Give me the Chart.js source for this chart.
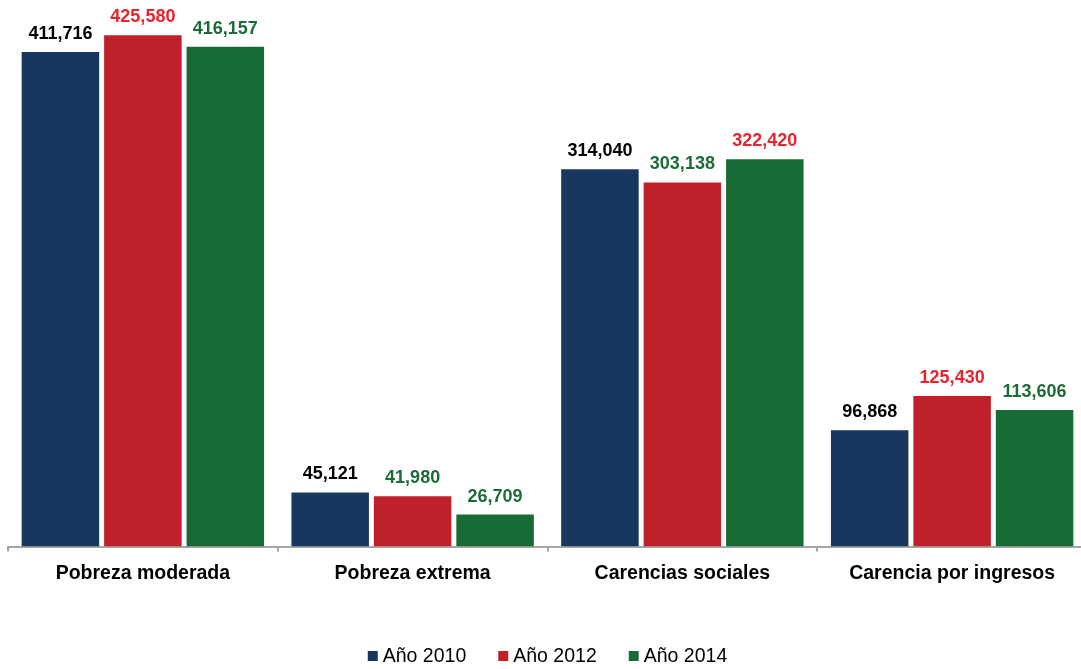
<!DOCTYPE html>
<html>
<head>
<meta charset="utf-8">
<script src="https://cdn.jsdelivr.net/npm/chart.js@4/dist/chart.umd.min.js"></script>
<style>
html,body{margin:0;padding:0;background:#fff;overflow:hidden;}
#wrap{width:1081px;height:669px;position:relative;overflow:hidden;}
</style>
</head>
<body>
<div id="wrap"><canvas id="c" width="1087" height="669"></canvas></div>
<script>
const categories = ["Pobreza moderada", "Pobreza extrema", "Carencias sociales", "Carencia por ingresos"];
const seriesNames = ["Año 2010", "Año 2012", "Año 2014"];
const values2010 = [411716, 45121, 314040, 96868];
const values2012 = [425580, 41980, 303138, 125430];
const values2014 = [416157, 26709, 322420, 113606];
const labelColors2010 = ["#000000", "#000000", "#000000", "#000000"];
const labelColors2012 = ["#E8242C", "#1D6B38", "#1D6B38", "#E8242C"];
const labelColors2014 = ["#1D6B38", "#1D6B38", "#E8242C", "#1D6B38"];

const barColors = ["#17375E", "#C0202A", "#196B35"];
const allValues = [values2010, values2012, values2014];
const allLabelColors = [labelColors2010, labelColors2012, labelColors2014];
const FONT = '"Liberation Sans", Arial, sans-serif';

const valueLabels = {
  id: 'valueLabels',
  afterDatasetsDraw(chart) {
    const ctx = chart.ctx;
    ctx.save();
    ctx.font = 'bold 18px ' + FONT;
    ctx.textAlign = 'center';
    ctx.textBaseline = 'alphabetic';
    chart.data.datasets.forEach((ds, di) => {
      const meta = chart.getDatasetMeta(di);
      meta.data.forEach((bar, i) => {
        ctx.fillStyle = allLabelColors[di][i];
        ctx.fillText(ds.data[i].toLocaleString('en-US'), bar.x, bar.y - 13);
      });
    });
    ctx.restore();
  }
};

const bottomLegend = {
  id: 'bottomLegend',
  afterDraw(chart) {
    const ctx = chart.ctx;
    ctx.save();
    ctx.font = '19.5px ' + FONT;
    ctx.textBaseline = 'middle';
    ctx.textAlign = 'left';
    const box = 10, gap = 5, spacing = 32;
    const items = chart.data.datasets.map(ds => ({
      text: ds.label, color: ds.backgroundColor, w: box + gap + ctx.measureText(ds.label).width
    }));
    const total = items.reduce((s, it) => s + it.w, 0) + spacing * (items.length - 1);
    const cx = (chart.chartArea.left + chart.chartArea.right) / 2;
    let x = cx - total / 2;
    const y = 656;
    items.forEach(it => {
      ctx.fillStyle = it.color;
      ctx.fillRect(x, y - box / 2, box, box);
      ctx.fillStyle = '#000';
      ctx.fillText(it.text, x + box + gap, y + 1);
      x += it.w + spacing;
    });
    ctx.restore();
  }
};

new Chart(document.getElementById('c'), {
  type: 'bar',
  data: {
    labels: categories,
    datasets: seriesNames.map((n, k) => ({
      label: n,
      data: allValues[k],
      backgroundColor: barColors[k],
      borderWidth: 0,
      barPercentage: 0.94,
      categoryPercentage: 0.917
    }))
  },
  options: {
    responsive: false,
    animation: false,
    layout: { padding: { left: 8, right: 0, top: 6, bottom: 74 } },
    plugins: {
      legend: { display: false },
      tooltip: { enabled: false }
    },
    scales: {
      x: {
        offset: true,
        grid: {
          offset: true,
          drawOnChartArea: false,
          drawTicks: true,
          tickLength: 5,
          color: '#A6A6A6',
          lineWidth: 2
        },
        border: { color: '#A6A6A6', width: 2 },
        ticks: {
          font: { family: FONT, size: 19.5, weight: 'bold' },
          color: '#000',
          padding: 10
        }
      },
      y: {
        display: false,
        min: 0,
        max: 450000
      }
    }
  },
  plugins: [valueLabels, bottomLegend]
});
</script>
</body>
</html>
